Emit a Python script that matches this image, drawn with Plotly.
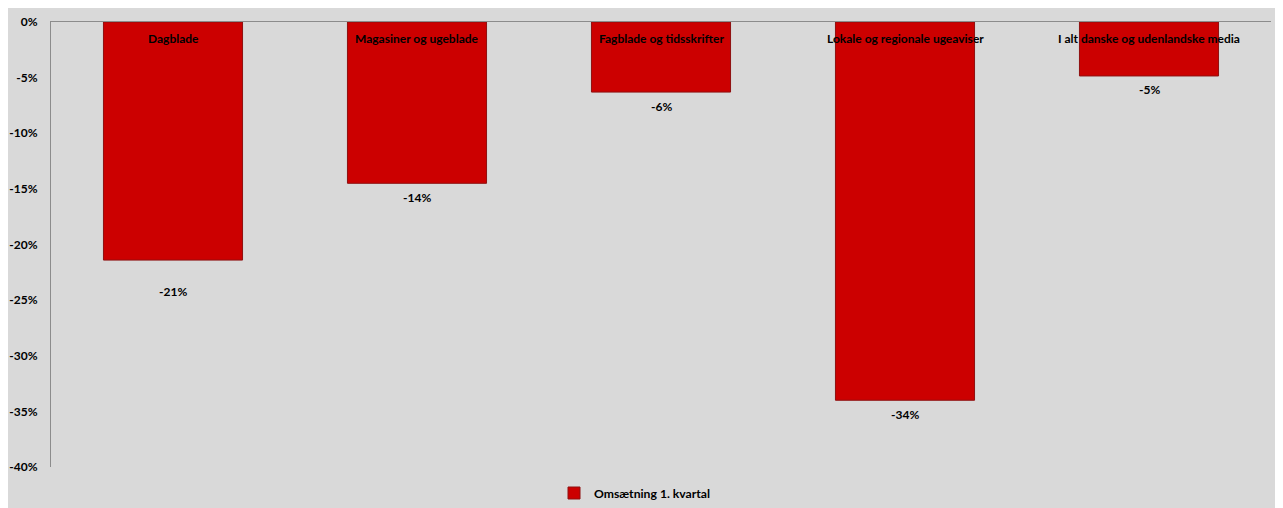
import plotly.graph_objects as go

categories = ["Dagblade", "Magasiner og ugeblade", "Fagblade og tidsskrifter",
              "Lokale og regionale ugeaviser", "I alt danske og udenlandske media"]
values = [-21.4, -14.5, -6.3, -34.0, -4.85]
value_labels = ["-21%", "-14%", "-6%", "-34%", "-5%"]
series_name = "Omsætning 1. kvartal"
y_tickvals = [0, -5, -10, -15, -20, -25, -30, -35, -40]
y_ticktext = ["0%", "-5%", "-10%", "-15%", "-20%", "-25%", "-30%", "-35%", "-40%"]

FONT = "Lato"
# page has an 8px body margin, so the figure is sized to fit the window
W, H = 1275, 500
ml, mr, mt, mb = 43, 12, 14, 41
pw = W - ml - mr
ph = H - mt - mb

# label placement style (pixels below bar end); the first label sits lower in the original
LABEL_SHIFT_DEFAULT = -14
LABEL_SHIFT_SPECIAL = {"Dagblade": -31}


def px_x(px):
    return (px - ml) / pw


def px_y(py):
    return (mt + ph - py) / ph


fig = go.Figure()
fig.add_trace(go.Bar(
    x=categories, y=values, name=series_name,
    marker=dict(color="#CC0000", line=dict(color="#8f1010", width=1)),
    width=0.57,
    showlegend=True,
))

bold12 = dict(family=FONT, size=12, color="#000000", weight="bold")
for c, v, lab in zip(categories, values, value_labels):
    fig.add_annotation(x=c, y=0, xref="x", yref="y", text=c, showarrow=False,
                       yanchor="middle", yshift=-16, font=bold12)
    fig.add_annotation(x=c, y=v, xref="x", yref="y", text=lab, showarrow=False,
                       yanchor="middle",
                       yshift=LABEL_SHIFT_SPECIAL.get(c, LABEL_SHIFT_DEFAULT),
                       font=bold12)

fig.update_layout(
    width=W, height=H,
    margin=dict(l=ml, r=mr, t=mt, b=mb, autoexpand=False),
    paper_bgcolor="#d9d9d9",
    plot_bgcolor="rgba(0,0,0,0)",
    bargap=0.43,
    font=dict(family=FONT, size=12, color="#000000"),
    xaxis=dict(side="top", showline=True, linecolor="#8c8c8c", linewidth=1,
               showticklabels=False, ticks="", showgrid=False, zeroline=False),
    yaxis=dict(range=[-40, 0], tickvals=y_tickvals, ticktext=y_ticktext,
               showline=True, linecolor="#8c8c8c", linewidth=1, ticks="",
               showgrid=False, zeroline=False, ticklabelstandoff=10,
               tickfont=bold12),
    legend=dict(orientation="h", x=px_x(546), xanchor="left",
                y=px_y(485), yanchor="middle",
                bgcolor="rgba(0,0,0,0)",
                font=dict(family=FONT, size=12.2, color="#000000", weight="bold"),
                itemwidth=30),
)

fig.write_html("out.html")
